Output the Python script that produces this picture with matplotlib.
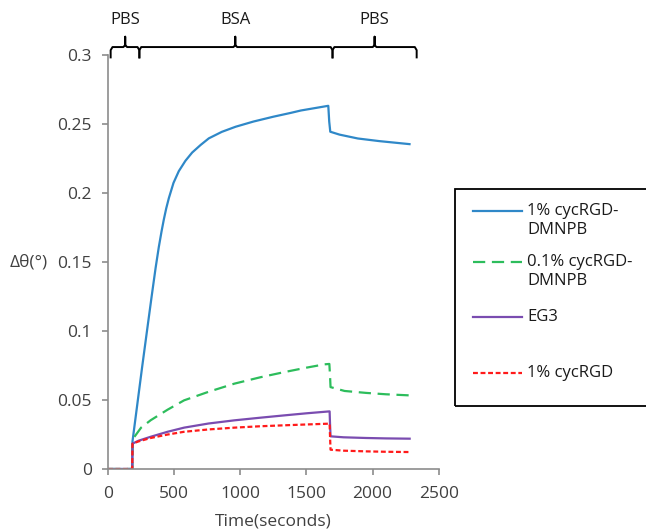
import numpy as np
import matplotlib
matplotlib.use("Agg")
import matplotlib.pyplot as plt
from matplotlib.lines import Line2D
from matplotlib.patches import Rectangle

# values
t_blue = [0, 183, 185, 258, 300, 331, 360, 384, 405, 422, 440, 460, 495, 535,
          585, 636, 700, 762, 860, 964, 1100, 1250, 1383, 1458, 1665, 1672,
          1680, 1750, 1888, 2050, 2279]
y_blue = [0, 0, 0.020, 0.074, 0.104, 0.126, 0.146, 0.161, 0.1725, 0.181,
          0.189, 0.1965, 0.2075, 0.216, 0.2235, 0.2295, 0.235, 0.2398, 0.2445,
          0.2482, 0.252, 0.2555, 0.2583, 0.260, 0.2634, 0.252, 0.2446, 0.2425,
          0.2397, 0.2378, 0.2356]

t_green = [0, 183, 185, 197, 250, 323, 450, 575, 760, 955, 1150, 1333, 1500,
           1636, 1673, 1678, 1682, 1788, 1950, 2100, 2280]
y_green = [0, 0, 0.0184, 0.023, 0.030, 0.0354, 0.0430, 0.0498, 0.0560, 0.0619,
           0.0665, 0.0703, 0.0735, 0.0759, 0.0762, 0.068, 0.0594, 0.0566,
           0.0552, 0.0542, 0.0534]

t_purple = [0, 183, 185, 230, 323, 450, 575, 760, 955, 1150, 1333, 1500, 1675,
            1678, 1682, 1780, 1950, 2100, 2280]
y_purple = [0, 0, 0.0184, 0.0205, 0.0234, 0.0270, 0.0300, 0.0330, 0.0353,
            0.0372, 0.0389, 0.0404, 0.0418, 0.033, 0.0237, 0.0230, 0.0225,
            0.0222, 0.0220]

t_red = [0, 183, 185, 230, 323, 450, 575, 760, 955, 1150, 1333, 1500, 1675,
         1678, 1682, 1780, 1950, 2100, 2280]
y_red = [0, 0, 0.0184, 0.0200, 0.0225, 0.0250, 0.0270, 0.0287, 0.0300,
         0.0310, 0.0317, 0.0323, 0.0329, 0.024, 0.0140, 0.0133, 0.0128,
         0.0125, 0.0123]

labels = ["1% cycRGD-\nDMNPB", "0.1% cycRGD-\nDMNPB", "EG3", "1% cycRGD"]

# buffer phases shown with braces above the plot
phase_names = ["PBS", "BSA", "PBS"]
phase_start = [20, 237, 1697]
phase_end = [237, 1697, 2333]
phase_tip = [130, 962, 2015]

plt.rcParams['font.family'] = ['Open Sans', 'DejaVu Sans']

fig = plt.figure(figsize=(6.46, 5.29), dpi=100)
ax = fig.add_axes([0.1672, 0.1134, 0.512, 0.782])

c_blue = '#2f88c8'
c_green = '#2dbd5c'
c_purple = '#7a4cb0'
c_red = '#ff1a1a'

ax.plot(t_blue, y_blue, color=c_blue, lw=1.6)
ax.plot(t_green, y_green, color=c_green, lw=1.6, dashes=(5.5, 3))
ax.plot(t_purple, y_purple, color=c_purple, lw=1.6)
ax.plot(t_red, y_red, color=c_red, lw=1.6, dashes=(2.2, 1.2))

ax.set_xlim(0, 2500)
ax.set_ylim(0, 0.3)
ax.set_xticks([0, 500, 1000, 1500, 2000, 2500])
ax.set_yticks([0, 0.05, 0.1, 0.15, 0.2, 0.25, 0.3])
ax.set_yticklabels(['0', '0.05', '0.1', '0.15', '0.2', '0.25', '0.3'])

for s in ['top', 'right']:
    ax.spines[s].set_visible(False)
for s in ['left', 'bottom']:
    ax.spines[s].set_color('#8c8c8c')
    ax.spines[s].set_linewidth(1.2)
ax.tick_params(colors='#8c8c8c', labelcolor='#404040', length=4.5, width=1.2,
               labelsize=12.5, pad=7)
ax.tick_params(axis='x', pad=8)

ax.set_xlabel('Time(seconds)', fontsize=12.5, color='#404040', labelpad=8)
ax.set_ylabel('Δθ(°)', fontsize=12.5, color='#404040', rotation=0,
              va='center', ha='center')
ax.yaxis.set_label_coords(-0.24, 0.5)

# braces
yb, d, h, w = 0.306, 0.0075, 0.0075, 14
for name, x0, x1, xt in zip(phase_names, phase_start, phase_end, phase_tip):
    bx = [x0, x0, x0 + w, xt - w, xt, xt, xt, xt + w, x1 - w, x1, x1]
    by = [yb - d, yb - d * 0.3, yb, yb, yb + h * 0.2, yb + h, yb + h * 0.2,
          yb, yb, yb - d * 0.3, yb - d]
    ax.plot(bx, by, color='black', lw=1.4, clip_on=False)
    ax.text(xt, 0.3255, name, ha='center', va='center', fontsize=12,
            color='#1a1a1a')

# legend box drawn by hand so each handle sits on the first text line
fig.add_artist(Rectangle((455 / 646, 1 - 406 / 529), 0.33, (406 - 189) / 529,
                         transform=fig.transFigure, fill=False,
                         edgecolor='black', lw=1.3))
entry_y = [210.7, 261.7, 316.7, 373.0]
styles = [dict(color=c_blue), dict(color=c_green, dashes=(5.5, 3)),
          dict(color=c_purple), dict(color=c_red, dashes=(2.2, 1.2))]
for lab, ey, st in zip(labels, entry_y, styles):
    yf = 1 - ey / 529
    fig.text(527 / 646, yf + 8 / 529, lab, ha='left', va='top', fontsize=12,
             color='#1a1a1a', linespacing=1.3)
    fig.add_artist(Line2D([473 / 646, 521.7 / 646], [yf, yf],
                          transform=fig.transFigure, lw=1.6, **st))

fig.savefig('out.png', dpi=100)
